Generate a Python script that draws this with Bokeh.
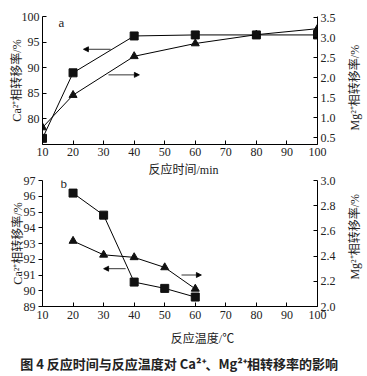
import math
from bokeh.plotting import figure
from bokeh.models import (Range1d, LinearAxis, Arrow, NormalHead, Label,
                          FixedTicker, PrintfTickFormatter)
from bokeh.layouts import column, row
from bokeh.embed import file_html
from bokeh.resources import INLINE

# ---- data (a): reaction time ----
time_min = [10, 20, 40, 60, 80, 100]
ca_time = [76.2, 89.0, 96.2, 96.4, 96.4, 96.4]
mg_time = [0.75, 1.56, 2.53, 2.85, 3.07, 3.22]

# ---- data (b): reaction temperature ----
temp_c = [20, 30, 40, 50, 60]
ca_temp = [96.2, 94.8, 90.55, 90.15, 89.6]
mg_temp = [2.52, 2.41, 2.39, 2.31, 2.14]

x_ticks = [10, 20, 30, 40, 50, 60, 70, 80, 90, 100]
ca_ticks_a = [80, 85, 90, 95, 100]
mg_ticks_a = [0.5, 1.0, 1.5, 2.0, 2.5, 3.0, 3.5]
ca_ticks_b = [89, 90, 91, 92, 93, 94, 95, 96, 97]
mg_ticks_b = [2.0, 2.2, 2.4, 2.6, 2.8, 3.0]

# arrows indicating which axis a curve belongs to (data coords: x0, x1, y)
arrow_left_a = (32.3, 23.4, 93.6)
arrow_right_a = (31.6, 41.7, 88.6)
arrow_left_b = (37.2, 30.0, 91.4)
arrow_right_b = (55.5, 62.0, 91.0)

SERIF = "'Liberation Serif', 'Noto Sans CJK SC'"
CJK = "'Noto Sans CJK SC'"
TICK_FS = "12px"
LAB_FS = "12px"
INK = "#222222"

MAIN_W = 345
SIDE_W = 18
FULL_W = MAIN_W + SIDE_W
H_A = 162
H_AX = 13
H_B = 150
H_C = 48


def style_axis(ax, tick_in=4, tick_out=0):
    ax.axis_line_color = "black"
    ax.axis_line_width = 1
    ax.major_tick_line_color = "black"
    ax.major_tick_in = tick_in
    ax.major_tick_out = tick_out
    ax.minor_tick_line_color = None
    ax.major_label_text_font = SERIF
    ax.major_label_text_font_size = TICK_FS
    ax.major_label_text_color = INK
    ax.axis_label_text_font = SERIF
    ax.axis_label_text_font_size = LAB_FS
    ax.axis_label_text_font_style = "normal"
    ax.axis_label_text_color = INK
    ax.major_label_standoff = 3


def add_arrow(p, spec):
    x0, x1, y = spec
    p.add_layout(Arrow(end=NormalHead(size=5, fill_color="black", line_color="black", line_width=0.8),
                       x_start=x0, y_start=y, x_end=x1, y_end=y,
                       line_color="black", line_width=0.8))


def blank_fig(w, h):
    # a plain text strip whose frame fills the whole figure; data units = pixels from top-left
    p = figure(width=w, height=h, output_backend="svg", toolbar_location=None,
               x_range=Range1d(0, w), y_range=Range1d(h, 0),
               min_border=0, min_border_left=0, min_border_right=0,
               min_border_top=0, min_border_bottom=0)
    p.axis.visible = False
    p.grid.visible = False
    p.outline_line_color = None
    p.background_fill_color = "white"
    p.border_fill_color = "white"
    return p


def make_fig(height, top, bottom, xr, yr, yr2):
    p = figure(width=MAIN_W, height=height, output_backend="svg", toolbar_location=None,
               x_range=Range1d(*xr), y_range=Range1d(*yr),
               min_border_left=42, min_border_right=28, min_border_top=top,
               min_border_bottom=bottom)
    p.extra_y_ranges = {"mg": Range1d(*yr2)}
    p.xgrid.visible = False
    p.ygrid.visible = False
    p.outline_line_color = None
    p.background_fill_color = "white"
    p.border_fill_color = "white"
    return p


def side_label(h, y_center, text):
    s = blank_fig(SIDE_W, h)
    s.add_layout(Label(x=SIDE_W / 2, y=y_center, text=text, angle=math.pi / 2,
                       text_align="center", text_baseline="middle", text_font=SERIF,
                       text_font_size=LAB_FS, text_color=INK))
    return s


# ---------------- figure a ----------------
pa = make_fig(H_A, 16, 18, (10, 100), (75, 100), (0.325, 3.525))
pa.xaxis.ticker = FixedTicker(ticks=x_ticks)
pa.yaxis.ticker = FixedTicker(ticks=ca_ticks_a)
pa.yaxis.axis_label = "Ca²⁺相转移率/%"
style_axis(pa.xaxis[0])
style_axis(pa.yaxis[0])
pa.xaxis.major_label_standoff = 3
pa.yaxis.axis_label_standoff = -5
ra = LinearAxis(y_range_name="mg", ticker=FixedTicker(ticks=mg_ticks_a),
                formatter=PrintfTickFormatter(format="%.1f"))
style_axis(ra)
pa.add_layout(ra, "right")

pa.line(time_min, ca_time, line_color="black", line_width=1)
pa.scatter(time_min, ca_time, marker="square", size=8, fill_color="#111111", line_color="#111111")
pa.line(time_min, mg_time, line_color="black", line_width=1, y_range_name="mg")
pa.scatter(time_min, mg_time, marker="triangle", size=8, fill_color="#111111", line_color="#111111",
           y_range_name="mg")
add_arrow(pa, arrow_left_a)
add_arrow(pa, arrow_right_a)
pa.add_layout(Label(x=15.2, y=98.8, text="a", text_font=SERIF, text_font_size="13px",
                    text_baseline="middle", text_color=INK))
sa = side_label(H_A, 90, "Mg²⁺相转移率/%")

# x label of a
pax = blank_fig(FULL_W, H_AX)
pax.add_layout(Label(x=183, y=7, text="反应时间/min", text_align="center", text_baseline="middle",
                     text_font=SERIF, text_font_size=LAB_FS, text_color=INK))

# ---------------- figure b ----------------
pb = make_fig(H_B, 5, 19, (10, 100), (89, 97), (2.0, 3.0))
pb.xaxis.ticker = FixedTicker(ticks=x_ticks)
pb.yaxis.ticker = FixedTicker(ticks=ca_ticks_b)
pb.yaxis.axis_label = "Ca²⁺相转移率/%"
style_axis(pb.xaxis[0])
style_axis(pb.yaxis[0], tick_in=0, tick_out=4)
pb.xaxis.major_label_standoff = 4
pb.yaxis.axis_label_standoff = -4
rb = LinearAxis(y_range_name="mg", ticker=FixedTicker(ticks=mg_ticks_b),
                formatter=PrintfTickFormatter(format="%.1f"))
style_axis(rb)
pb.add_layout(rb, "right")

pb.line(temp_c, ca_temp, line_color="black", line_width=1)
pb.scatter(temp_c, ca_temp, marker="square", size=8, fill_color="#111111", line_color="#111111")
pb.line(temp_c, mg_temp, line_color="black", line_width=1, y_range_name="mg")
pb.scatter(temp_c, mg_temp, marker="triangle", size=8, fill_color="#111111", line_color="#111111",
           y_range_name="mg")
add_arrow(pb, arrow_left_b)
add_arrow(pb, arrow_right_b)
pb.add_layout(Label(x=15.9, y=96.8, text="b", text_font=SERIF, text_font_size="13px",
                    text_baseline="middle", text_color=INK))
sb = side_label(H_B, 67, "Mg²⁺相转移率/%")

# ---------------- x label of b + caption ----------------
pc = blank_fig(FULL_W, H_C)
pc.add_layout(Label(x=202, y=13, text="反应温度/℃", text_align="center", text_baseline="middle",
                    text_font=SERIF, text_font_size=LAB_FS, text_color=INK))
pc.add_layout(Label(x=183, y=38, text="图 4    反应时间与反应温度对 Ca²⁺、Mg²⁺相转移率的影响",
                    text_align="center", text_baseline="middle", text_font=CJK,
                    text_font_size="13px", text_font_style="bold", text_color=INK))

layout = column(row(pa, sa, spacing=0), pax, row(pb, sb, spacing=0), pc, spacing=0)
open("out.html", "w").write(file_html(layout, INLINE))
